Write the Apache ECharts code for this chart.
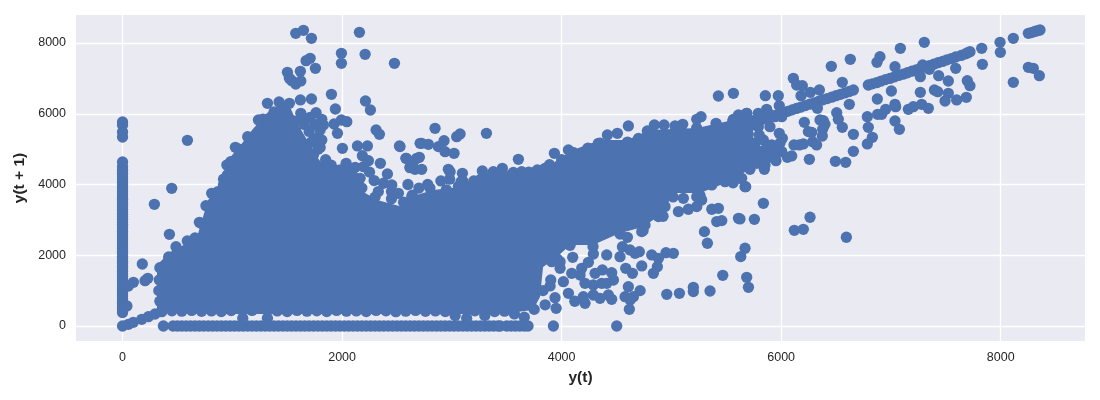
<!DOCTYPE html>
<html><head><meta charset="utf-8">
<style>html,body{margin:0;padding:0;background:#fff}#c{width:1100px;height:400px}</style>
<script src="https://cdn.jsdelivr.net/npm/echarts@6/dist/echarts.min.js"></script>
</head><body><div id="c"></div>
<script>
const xTicks=[0,2000,4000,6000,8000];
const yTicks=[0,2000,4000,6000,8000];
// outline of the fully saturated body of the cloud
const bodyOutline=[[314,509],[314,1724],[433,2092],[524,2233],[679,2516],[733,3081],[779,3562],[888,3930],[934,4325],[961,4693],[1098,5202],[1180,5541],[1316,6022],[1408,6191],[1526,6191],[1590,5739],[1772,4778],[1863,4410],[1954,4043],[2100,4127],[2164,3845],[2319,3562],[2555,3364],[2619,3647],[2829,3845],[3075,3930],[3257,4325],[3557,4410],[3894,4551],[4104,4976],[4350,5258],[4596,5258],[4805,5541],[5234,5597],[5562,5824],[5671,5908],[5671,4354],[5562,4127],[5261,3760],[5015,3760],[4924,3195],[4742,2799],[4532,2629],[4286,2290],[4077,2290],[3958,1951],[3831,1668],[3803,820],[3740,452],[3439,339],[2528,339],[1617,339],[706,339],[360,396]];
const zeroRowX=[372,460,500,540,580,620,660,700,740,780,820,860,900,940,980,1020,1060,1100,1140,1180,1220,1260,1300,1340,1380,1420,1460,1500,1540,1580,1620,1660,1700,1740,1780,1820,1860,1900,1940,1980,2020,2060,2100,2140,2180,2220,2260,2300,2340,2380,2420,2460,2500,2540,2580,2620,2660,2700,2740,2780,2820,2860,2900,2940,2980,3020,3060,3100,3140,3180,3220,3260,3300,3340,3380,3420,3440,3500,3540,3580,3620,3660,3694,3925,4502];
const zeroColumnY=[380,440,500,570,640,710,780,850,920,990,1060,1130,1200,1270,1340,1410,1480,1550,1620,1690,1760,1830,1900,1970,2040,2110,2180,2250,2320,2390,2460,2530,2600,2670,2740,2810,2880,2950,3020,3090,3160,3230,3300,3370,3440,3510,3580,3650,3720,3790,3860,3930,4000,4070,4140,4210,4280,4325,4400,4500,4636,5343,5484,5680,5767];
const lowCurve=[[0,0],[53,47],[98,104],[175,189],[235,263],[296,339],[357,405],[40,565],[99,1235],[53,1131],[180,1753],[230,1348],[205,1281],[290,3440],[427,2592],[448,3892],[812,3751],[700,2931],[590,2403],[660,2488],[487,2242],[591,5250]];
const bottomRim=[[360,450],[450,430],[540,420],[630,440],[720,415],[810,425],[900,410],[990,435],[1095,220],[1180,440],[1320,220],[1410,425],[1500,410],[1590,440],[1680,420],[1770,430],[1860,410],[1950,440],[2040,420],[2130,425],[2220,410],[2310,440],[2400,430],[2490,405],[2580,420],[2670,440],[2760,415],[2850,425],[2940,410],[3030,300],[3135,218],[3210,430],[3300,300],[3390,410],[3480,420],[3570,340],[3660,250],[3750,470]];
const upperRim=[[340,700],[330,1000],[335,1300],[340,1650],[420,1950],[510,2100],[660,2400],[720,2900],[760,3400],[870,3800],[920,4150],[950,4550],[1060,5000],[1140,5350],[1280,5850],[1380,6050],[1480,6100],[1560,5800],[1740,4850],[1860,4500],[1950,4200],[2090,4220],[2180,3900],[2300,3640],[2450,3600],[2560,3500],[2640,3700],[2800,3900],[2950,3850],[3060,3950],[3200,4100],[3400,4250],[3560,4340],[3700,4350],[3890,4560],[4000,4700],[4110,4900],[4240,5030],[4350,5170],[4600,5200],[4700,5300],[4800,5400],[5000,5400],[5230,5600],[5400,5600],[5560,5800],[5562,4050],[5261,3690],[5015,3650],[4924,3100],[4742,2700],[4532,2600],[4286,2250],[4077,2280],[3958,1900],[2060,4350],[2250,4350],[2330,3800],[2450,3800],[2600,4000],[2700,3900],[2780,4000],[2900,4100],[2980,4150],[3100,4100],[1780,5000],[1850,4700],[1900,4550],[1720,5200],[1680,5000],[1950,4400],[2050,4250]];
const diagonal=[[5500,5510],[5540,5560],[5580,5590],[5620,5630],[5660,5675],[5700,5705],[5740,5750],[5780,5790],[5820,5830],[5860,5875],[5900,5910],[5940,5950],[5980,5985],[6020,6035],[6060,6070],[6100,6110],[6140,6150],[6180,6190],[6220,6230],[6260,6270],[6300,6310],[6340,6350],[6380,6395],[6420,6430],[6460,6470],[6500,6510],[6540,6550],[6580,6590],[6620,6630],[6658,6672],[6794,6813],[6830,6845],[6870,6880],[6910,6925],[6950,6965],[6990,7000],[7030,7040],[7070,7085],[7110,7120],[7150,7160],[7190,7205],[7230,7240],[7270,7285],[7310,7320],[7350,7360],[7390,7400],[7430,7445],[7470,7480],[7510,7525],[7550,7560],[7590,7605],[7640,7650],[7680,7695],[7700,7725],[7720,7755],[7827,7850],[7994,8019],[8115,8132],[8252,8274],[8280,8295],[8310,8325],[8335,8350],[8358,8368]];
const scatterA=[[1578,8274],[1648,8358],[1721,8132],[2158,8302],[1994,7708],[1994,7426],[2210,7680],[2477,7426],[1709,7567],[1672,7501],[1757,7285],[1620,7200],[1502,7171],[1520,7002],[1542,6936],[1578,6842],[1624,6927],[1903,6550],[1721,6418],[1620,6390],[2213,6361],[1320,6295],[1426,6333],[1520,6295],[1939,6135],[2258,6107],[1624,6013],[1763,6032],[1709,5900],[1238,5824],[1815,5843],[1927,5711],[1994,5824],[2043,5777],[1830,5683],[1800,5542],[2310,5542],[2340,5419],[1958,5448],[1815,5259],[1800,5043],[2003,5024],[2140,5090],[2231,5090],[2523,5090],[2711,5165],[2185,4816],[2240,4675],[2349,4600],[2583,4741],[2635,4647],[2680,4741],[2620,4487],[2665,4430],[2037,4600],[2119,4487],[2195,4505],[1982,4411],[2103,4223],[2164,4176],[1891,4393],[2413,4298],[2292,4110],[2453,3988],[2377,4035],[1906,4035],[1982,4129],[2058,4035],[2134,3941],[1028,5052],[985,4647],[955,4270],[919,3988],[2513,3750],[2635,3656],[1640,5900],[1750,5700],[1700,5500],[1750,5300],[1650,5700]];
const scatterB=[[2847,5589],[2528,5071],[2725,5165],[2786,5137],[2929,5240],[2877,5071],[2938,4929],[3020,4882],[3044,5353],[3075,5428],[3315,5447],[2583,4741],[2649,4647],[2704,4769],[2619,4477],[2725,4430],[2968,4430],[2984,4364],[3096,4317],[3084,4081],[3278,4383],[3378,4364],[3460,4458],[3606,4713],[3636,4364],[3779,4411],[3849,4458],[3934,4882],[4062,4976],[4335,5165],[4417,5400],[4508,5447],[4608,5655],[4781,5513],[4845,5683],[4933,5683],[5033,5655],[5103,5702],[5231,5843],[5270,5918],[5407,5730],[5428,6502],[5565,6578],[5611,5965],[5686,6013],[5565,5843],[5671,3940],[5626,4176],[5489,4081],[5368,3987],[5231,3657],[5276,3563],[5231,3375],[5155,3300],[5064,3234],[4942,3375],[4882,3092],[5109,3610],[5368,3300],[5428,3328],[5413,2951],[5459,2979],[5611,3045],[5301,2668],[5328,2339],[5671,2198],[5632,1962],[4730,2668],[4599,2508],[4760,2857]];
const scatterC=[[4617,472],[5468,1433],[5686,1377],[5702,1094],[4958,896],[5073,924],[5200,1094],[5200,972],[5352,990],[4608,1113],[4715,1000],[4654,830],[4578,830],[4624,736],[4456,755],[4213,642],[4350,783],[4062,924],[4198,830],[4289,877],[4426,877],[4472,1301],[4365,1207],[4289,1160],[4213,1207],[4411,1207],[4456,1508],[4371,1584],[4305,1490],[4016,1254],[4092,1490],[4168,1442],[4183,1631],[4244,1800],[4289,2036],[4411,2008],[4101,1942],[3986,1819],[3986,1631],[3910,1819],[3901,1301],[3895,1132],[4532,1961],[4554,2243],[4623,2149],[4708,2102],[4669,2055],[4821,2008],[4951,2074],[5018,2055],[4882,1913],[4872,1678],[4836,1490],[4730,1697],[4584,1631],[4645,1490],[3940,800],[3850,600],[4120,700],[3950,500],[3830,1000]];
const scatterD=[[7304,8019],[7086,7850],[6630,7539],[6457,7341],[6900,7614],[6873,7454],[7037,7332],[7289,7379],[7350,7256],[7268,7049],[7435,7077],[7523,6926],[7590,7284],[7833,7398],[7997,7737],[7696,6936],[7720,6795],[8115,6889],[8252,7313],[8297,7285],[8352,7077],[7268,6606],[7396,6672],[7426,6625],[7523,6578],[7493,6361],[7599,6390],[7687,6465],[7004,6644],[6876,6418],[7037,6267],[7043,6201],[6952,6126],[6916,5984],[6879,5984],[6785,5918],[7159,6126],[7204,6201],[7280,6267],[7341,6154],[7037,5796],[7077,5560],[6794,5617],[6831,5335],[6785,5146],[6658,5419],[6658,4939],[6557,6889],[6111,7002],[6141,6813],[6193,6795],[6181,6512],[6266,6606],[6348,6672],[5856,6512],[5974,6512],[5983,6229],[5868,6126],[5792,6013],[5686,6013],[6330,6154],[6621,6267],[6506,6032],[6521,5843],[6557,5617],[6211,5758],[6384,5806],[6354,5824],[6399,5702],[6378,5561],[6248,5495],[6278,5476],[6375,5372],[6287,5212],[6323,5118],[6117,5118],[6166,5118],[6202,5146],[5983,5448],[6011,5306],[6257,4713],[6494,4656],[6588,4628],[6096,4807],[6056,4769],[5953,4675],[5847,4430],[5716,4430],[5640,4176],[5677,3940],[5838,3469],[5625,3027],[5756,3017],[6263,3074],[6120,2706],[6202,2734],[6594,2509]];
const cluster=[[5640,5353],[5701,5259],[5762,5165],[5838,5259],[5914,5118],[5989,5165],[5640,4977],[5701,4977],[5777,4977],[5853,4977],[5929,4977],[6005,4930],[5655,4741],[5731,4694],[5792,4788],[5868,4741],[5944,4788],[5625,4505],[5686,4600],[5777,4600],[5853,4553],[5625,5636],[5701,5589],[5792,5636],[5898,5636],[5640,5918],[5716,5824],[5807,5918],[5883,6013],[6005,5918],[5944,5918],[5650,5150],[5700,5420],[5800,5400],[5700,4800],[5760,5700]];

const blue='#4C72B0',ink='#262626';
const points=[...zeroRowX.map(x=>[x,0]),...zeroColumnY.map(y=>[0,y]),...lowCurve,...bottomRim,...upperRim,...diagonal,...scatterA,...scatterB,...scatterC,...scatterD,...cluster];
const axis=(name,ticks,min,max,extra)=>Object.assign({type:'value',name,nameLocation:'middle',min,max,
  nameTextStyle:{fontFamily:'Liberation Sans',fontWeight:'bold',fontSize:15.5,color:ink},
  axisLine:{show:false},
  axisTick:{show:false,customValues:ticks},
  axisLabel:{customValues:ticks,formatter:v=>String(v),color:ink,fontFamily:'Liberation Sans',fontSize:12.5,margin:10},
  splitLine:{show:true,lineStyle:{color:'#fff',width:1.3}}},extra);
const chart=echarts.init(document.getElementById('c'),null,{renderer:'canvas'});
chart.setOption({animation:false,backgroundColor:'#fff',
  grid:{left:76,top:15,width:1009,height:326,backgroundColor:'#EAEAF2',show:true,borderWidth:0},
  xAxis:axis('y(t)',xTicks,-424,8768,{nameGap:29}),
  yAxis:axis('y(t + 1)',yTicks,-424,8792,{nameGap:41}),
  series:[
   {type:'custom',data:bodyOutline,encode:{x:0,y:1},silent:true,z:2,
    renderItem:(p,api)=>p.dataIndex!==0?null:{type:'polygon',
      shape:{points:bodyOutline.map(d=>api.coord(d))},style:{fill:blue}}},
   {type:'scatter',data:points,symbol:'circle',symbolSize:11.3,itemStyle:{color:blue,opacity:1},z:3,large:false,silent:true}
  ]});
</script></body></html>
